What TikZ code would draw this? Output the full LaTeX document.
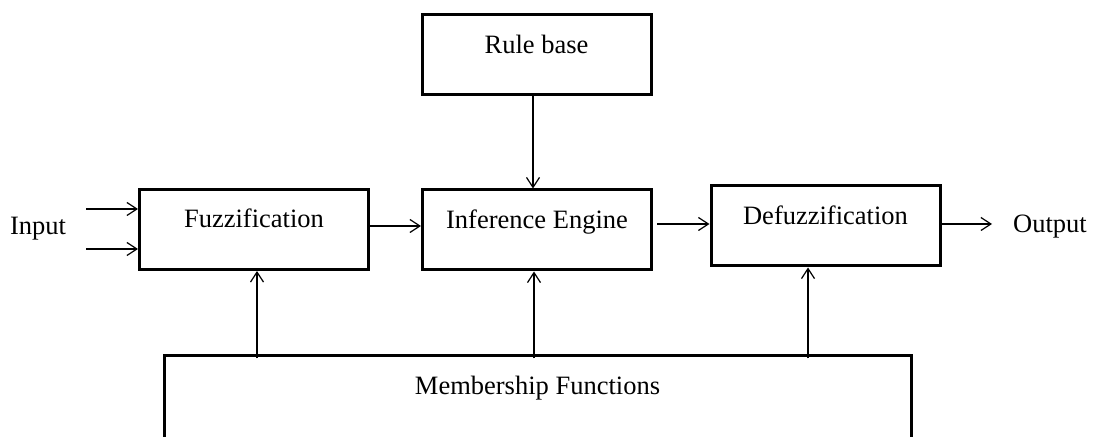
\documentclass[tikz,border=0pt]{standalone}
\usepackage{fontspec}
\setmainfont{Liberation Serif}
\usepackage{tikz}
\usetikzlibrary{arrows.meta,positioning,calc}

\begin{document}
\begin{tikzpicture}[x=1pt, y=1pt, font=\fontsize{26.5}{30}\selectfont,
    block/.style={rectangle, draw, line width=3pt, inner sep=0pt,
      minimum width=229pt, minimum height=80pt, text height=20pt, text depth=23pt},
    arr/.style={-{Straight Barb[length=10pt,width=13pt]}, line width=1.2pt}]
        \useasboundingbox (0,0) rectangle (1094,436);

        \node[block] (fuzz) at (254,206.5) {Fuzzification};
        \node[block] (infer) at (537,206) {Inference Engine};
        \node[block] (rule) at (536.5,381) {Rule base};
        \node[block] (defuzz) at (825.5,210) {Defuzzification};
        \node[block, minimum width=747pt, minimum height=120pt, text depth=61pt] (mf) at (537.5,20.5) {Membership Functions};

        \node[anchor=base] (input) at (38,201) {Input};
        \node[anchor=base] (output) at (1050,203) {Output};
        \coordinate (in1) at (86,227);
        \coordinate (in2) at (86,187);
        \coordinate (out) at (992,212);

        % inputs and output
        \draw[arr] (in1) -- (in1 -| fuzz.west);
        \draw[arr] (in2) -- (in2 -| fuzz.west);
        \draw[arr] ([yshift=2pt]defuzz.east) -- (out);

        % main chain
        \draw[arr] ([yshift=3.5pt]fuzz.east) -- ([yshift=3.5pt]fuzz.east -| infer.west);
        \draw[arr] ($([yshift=6pt]infer.east)+(4,0)$) -- ([yshift=6pt]infer.east -| defuzz.west);
        \draw[arr] ([xshift=-3.5pt]rule.south) -- ([xshift=-3.5pt]rule.south |- infer.north);

        % membership functions feed every stage
        \draw[arr] ($(mf.north -| fuzz.south)+(3,-4.5)$) -- ([xshift=3pt]fuzz.south);
        \draw[arr] ($(mf.north -| infer.south)+(-3,-4.5)$) -- ([xshift=-3pt]infer.south);
        \draw[arr] ($(mf.north -| defuzz.south)+(-17.5,-4.5)$) -- ([xshift=-17.5pt]defuzz.south);
      \end{tikzpicture}
\end{document}
